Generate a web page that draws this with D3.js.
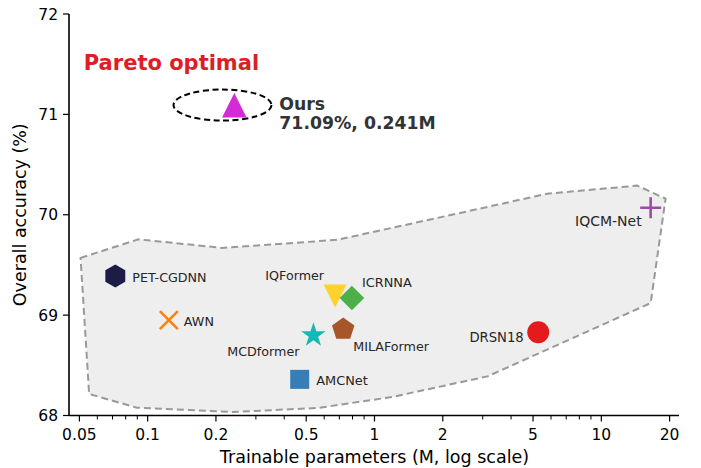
<!DOCTYPE html>
<html>
<head>
<meta charset="utf-8">
<script src="https://cdn.jsdelivr.net/npm/d3@7"></script>
<style>
  body { margin: 0; background: #fff; }
  svg { font-family: "DejaVu Sans", sans-serif; }
</style>
</head>
<body>
<script>
// data
const models   = ["Ours", "PET-CGDNN", "AWN", "IQFormer", "ICRNNA", "MILAFormer", "MCDformer", "AMCNet", "DRSN18", "IQCM-Net"];
const params   = [0.241, 0.072, 0.124, 0.67, 0.795, 0.728, 0.538, 0.468, 5.27, 16.5];   // M
const accuracy = [71.09, 69.39, 68.95, 69.19, 69.17, 68.86, 68.80, 68.36, 68.83, 70.07]; // %

// shaded region round the other models
const hullParams = [0.0506, 0.091, 0.213, 0.684, 3.18, 5.77, 14.4, 19.2, 16.5, 3.15, 1.2, 0.564, 0.235, 0.0896, 0.0552];
const hullAcc    = [69.57, 69.755, 69.67, 69.75, 70.08, 70.21, 70.29, 70.16, 69.12, 68.39, 68.185, 68.075, 68.035, 68.078, 68.214];

const xMajor = [0.05, 0.1, 0.2, 0.5, 1, 2, 5, 10, 20];
const xMinor = [0.06, 0.07, 0.08, 0.09, 0.3, 0.4, 0.6, 0.7, 0.8, 0.9, 3, 4, 6, 7, 8, 9];
const yTicks = [68, 69, 70, 71, 72];

// look of each marker and where its name goes (px from the marker)
const look = {
  "Ours":       { shape: "tri_up",   size: 24.5, color: "#d52ad5" },
  "PET-CGDNN":  { shape: "hexagon",  size: 11.5, color: "#1c1c45", dx: 17,  dy: 1,   anchor: "start", fs: 12.7 },
  "AWN":        { shape: "cross",    size: 9,    color: "#ff7f0e", dx: 15,  dy: 1,   anchor: "start", fs: 12.7 },
  "IQFormer":   { shape: "tri_down", size: 23,   color: "#fed22e", dx: -11, dy: -21, anchor: "end", fs: 12.7 },
  "ICRNNA":     { shape: "diamond",  size: 12.3, color: "#4daf4a", dx: 10,  dy: -16, anchor: "start", fs: 12.9 },
  "MILAFormer": { shape: "pentagon", size: 11.8, color: "#a65628", dx: 10,  dy: 17.5, anchor: "start", fs: 12.7 },
  "MCDformer":  { shape: "star",     size: 12.9, color: "#14b9b6", dx: -14, dy: 16,  anchor: "end", fs: 12.7 },
  "AMCNet":     { shape: "square",   size: 19,   color: "#377eb8", dx: 16.5, dy: 1.3, anchor: "start", fs: 12.9 },
  "DRSN18":     { shape: "circle",   size: 11,   color: "#e41a1c", dx: -14.5, dy: 5.5, anchor: "end", fs: 13.2 },
  "IQCM-Net":   { shape: "plus",     size: 10.5, color: "#984ea3", dx: -9,  dy: 13.5, anchor: "end", fs: 14 }
};

var W = 701, H = 468;
var m = { left: 69, right: 22, top: 14, bottom: 52.5 };

var x = d3.scaleLog().domain([0.045, 22]).range([m.left, W - m.right]);
var y = d3.scaleLinear().domain([68, 72]).range([H - m.bottom, m.top]);

var svg = d3.select("body").append("svg")
    .attr("width", W)
    .attr("height", H);

// polygon path for regular shapes, pointy top
function regular(n, r, inner) {
  var pts = [];
  var k = inner ? 2 * n : n;
  for (var i = 0; i < k; i++) {
    var a = -Math.PI / 2 + i * Math.PI * 2 / k;
    var rr = (inner && i % 2) ? r * inner : r;
    pts.push([rr * Math.cos(a), rr * Math.sin(a)]);
  }
  return "M" + pts.map(function(p) { return p[0].toFixed(2) + "," + p[1].toFixed(2); }).join("L") + "Z";
}

function shapePath(shape, s) {
  var h = s / 2;
  switch (shape) {
    case "tri_up":   return "M0," + (-h) + "L" + h + "," + h + "L" + (-h) + "," + h + "Z";
    case "tri_down": return "M0," + h + "L" + h + "," + (-h) + "L" + (-h) + "," + (-h) + "Z";
    case "diamond":  return "M0," + (-s) + "L" + s + ",0L0," + s + "L" + (-s) + ",0Z";
    case "square":   return "M" + (-h) + "," + (-h) + "h" + s + "v" + s + "h" + (-s) + "Z";
    case "hexagon":  return regular(6, s);
    case "pentagon": return regular(5, s);
    case "star":     return regular(5, s, 0.381966);
    case "circle":   return d3.arc()({ innerRadius: 0, outerRadius: s, startAngle: 0, endAngle: 2 * Math.PI });
    case "cross":    return "M" + (-s) + "," + (-s) + "L" + s + "," + s + "M" + (-s) + "," + s + "L" + s + "," + (-s);
    case "plus":     return "M" + (-s) + ",0L" + s + ",0M0," + (-s) + "L0," + s;
  }
}

// shaded region
var hull = hullParams.map(function(p, i) { return [x(p), y(hullAcc[i])]; });
svg.append("path")
    .attr("d", d3.line()(hull) + "Z")
    .attr("fill", "#eeeeee")
    .attr("stroke", "#999999")
    .attr("stroke-width", 2)
    .attr("stroke-dasharray", "7,4");

// axes
var gx = svg.append("g").attr("transform", "translate(0," + (H - m.bottom) + ")");
gx.append("line").attr("x1", m.left).attr("x2", W - m.right).attr("stroke", "#000").attr("stroke-width", 1.6);
gx.selectAll(".maj").data(xMajor).enter().append("line")
    .attr("x1", function(d) { return x(d); }).attr("x2", function(d) { return x(d); })
    .attr("y1", 0).attr("y2", 6).attr("stroke", "#000").attr("stroke-width", 1.2);
gx.selectAll(".min").data(xMinor).enter().append("line")
    .attr("x1", function(d) { return x(d); }).attr("x2", function(d) { return x(d); })
    .attr("y1", 0).attr("y2", 4).attr("stroke", "#000").attr("stroke-width", 1);
gx.selectAll("text").data(xMajor).enter().append("text")
    .attr("x", function(d) { return x(d); })
    .attr("y", 24)
    .attr("text-anchor", "middle")
    .attr("font-size", 15.5)
    .text(function(d) { return String(d); });

var gy = svg.append("g").attr("transform", "translate(" + m.left + ",0)");
gy.append("line").attr("y1", m.top).attr("y2", H - m.bottom).attr("stroke", "#000").attr("stroke-width", 1.6);
gy.selectAll(".tk").data(yTicks).enter().append("line")
    .attr("y1", function(d) { return y(d); }).attr("y2", function(d) { return y(d); })
    .attr("x1", -6).attr("x2", 0).attr("stroke", "#000").attr("stroke-width", 1.2);
gy.selectAll("text").data(yTicks).enter().append("text")
    .attr("x", -11)
    .attr("y", function(d) { return y(d) + 5.6; })
    .attr("text-anchor", "end")
    .attr("font-size", 15.5)
    .text(function(d) { return d; });

svg.append("text")
    .attr("x", x(1)).attr("y", 463)
    .attr("text-anchor", "middle")
    .attr("font-size", 17.5)
    .text("Trainable parameters (M, log scale)");

svg.append("text")
    .attr("transform", "translate(26," + y(70) + ") rotate(-90)")
    .attr("text-anchor", "middle")
    .attr("font-size", 17.5)
    .text("Overall accuracy (%)");

// ellipse round our model
svg.append("ellipse")
    .attr("cx", x(0.2138)).attr("cy", y(71.093))
    .attr("rx", 49).attr("ry", 15.5)
    .attr("fill", "none")
    .attr("stroke", "#000")
    .attr("stroke-width", 2)
    .attr("stroke-dasharray", "6,3.5");

// markers
var pts = svg.append("g").selectAll("g")
    .data(models)
    .enter().append("g")
    .attr("transform", function(d, i) { return "translate(" + x(params[i]) + "," + y(accuracy[i]) + ")"; });

pts.append("path")
    .attr("d", function(d) { return shapePath(look[d].shape, look[d].size); })
    .attr("fill", function(d) { var s = look[d].shape; return (s === "cross" || s === "plus") ? "none" : look[d].color; })
    .attr("stroke", function(d) { var s = look[d].shape; return (s === "cross" || s === "plus") ? look[d].color : "none"; })
    .attr("stroke-width", 2.6);

pts.filter(function(d) { return d !== "Ours"; }).append("text")
    .attr("x", function(d) { return look[d].dx; })
    .attr("y", function(d) { return look[d].dy; })
    .attr("dy", "0.36em")
    .attr("text-anchor", function(d) { return look[d].anchor; })
    .attr("font-size", function(d) { return look[d].fs; })
    .attr("fill", "#262626")
    .text(function(d) { return d; });

// annotations
svg.append("text")
    .attr("x", x(0.0523)).attr("y", 70)
    .attr("font-size", 21)
    .attr("font-weight", "bold")
    .attr("fill", "#dc1f26")
    .text("Pareto optimal");

var ours = svg.append("text")
    .attr("x", x(0.3807)).attr("y", 110)
    .attr("font-size", 17.3)
    .attr("font-weight", "bold")
    .attr("fill", "#333333");
ours.append("tspan").text("Ours");
ours.append("tspan").attr("x", x(0.3807)).attr("dy", 19)
    .text(accuracy[0].toFixed(2) + "%, " + params[0] + "M");
</script>
</body>
</html>
